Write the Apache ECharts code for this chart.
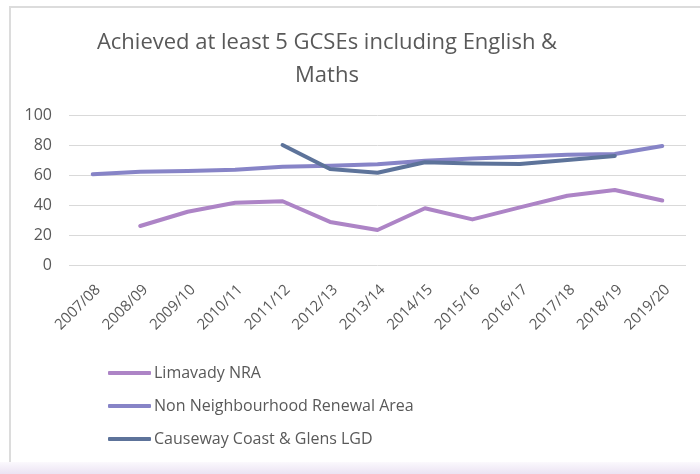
<!DOCTYPE html>
<html>
<head>
<meta charset="utf-8">
<script src="https://cdn.jsdelivr.net/npm/echarts@6/dist/echarts.min.js"></script>
<style>
  html, body { margin: 0; padding: 0; background: #fff; }
  #wrap { position: relative; width: 700px; height: 474px; overflow: hidden; }
  #frame { position: absolute; left: 9px; top: 6px; right: 0; bottom: 0; border-left: 2px solid #dcdcdc; border-top: 2px solid #dcdcdc; }
  #shade { position: absolute; left: 0; right: 0; bottom: 0; height: 12px; background: linear-gradient(#fbf9fd, #ebe3f3); }
  #main { position: absolute; left: 0; top: 0; width: 700px; height: 474px; }
</style>
</head>
<body>
<div id="wrap">
  <div id="frame"></div>
  <div id="shade"></div>
  <div id="main"></div>
</div>
<script>
// 学年
var years = ['2007/08', '2008/09', '2009/10', '2010/11', '2011/12', '2012/13', '2013/14',
  '2014/15', '2015/16', '2016/17', '2017/18', '2018/19', '2019/20'];
var limavady = [null, 26, 35.5, 41.5, 42.5, 28.7, 23.3, 37.8, 30.4, 38.4, 46.2, 50, 43];
var nonNRA = [60.5, 62.2, 62.7, 63.5, 65.5, 66.2, 67.2, 69.5, 71, 72.2, 73.5, 74, 79.3];
var causeway = [null, null, null, null, 80, 64, 61.5, 68.5, 67.6, 67.3, 70, 72.7, null];
var yTicks = [0, 20, 40, 60, 80, 100];

var font = 'Open Sans';
var textColor = '#595959';

var chart = echarts.init(document.getElementById('main'));

function lineSeries(name, data, color) {
  return {
    name: name,
    type: 'line',
    data: data,
    showSymbol: false,
    symbol: 'none',
    connectNulls: false,
    color: color,
    lineStyle: { width: 4, color: color, cap: 'round', join: 'round' }
  };
}

chart.setOption({
  animation: false,
  backgroundColor: 'transparent',
  title: {
    text: 'Achieved at least 5 GCSEs including English &\nMaths',
    left: 322,
    textAlign: 'center',
    top: 21,
    textStyle: { fontFamily: font, fontSize: 22, fontWeight: 'normal', color: textColor, lineHeight: 33 }
  },
  grid: { left: 69, right: 14, top: 115, bottom: 209, containLabel: false },
  xAxis: {
    type: 'category',
    data: years,
    boundaryGap: true,
    axisLine: { show: false },
    axisTick: { show: false },
    axisLabel: { rotate: 45, margin: 17, interval: 0, verticalAlign: 'top', fontFamily: font, fontSize: 15, color: textColor }
  },
  yAxis: {
    type: 'value',
    min: yTicks[0],
    max: yTicks[yTicks.length - 1],
    interval: 20,
    axisLine: { show: false },
    axisTick: { show: false },
    axisLabel: { margin: 17, fontFamily: font, fontSize: 16, color: textColor },
    splitLine: { lineStyle: { color: '#d9d9d9', width: 1 } }
  },
  legend: {
    orient: 'vertical',
    left: 103,
    top: 360,
    itemWidth: 43,
    itemHeight: 4,
    itemGap: 17,
    icon: 'roundRect',
    textStyle: { fontFamily: font, fontSize: 16, color: textColor, padding: [0, 0, 0, -2] }
  },
  series: [
    lineSeries('Limavady NRA', limavady, '#ad84c6'),
    lineSeries('Non Neighbourhood Renewal Area', nonNRA, '#8784c7'),
    lineSeries('Causeway Coast & Glens LGD', causeway, '#5d739a')
  ]
});
</script>
</body>
</html>
